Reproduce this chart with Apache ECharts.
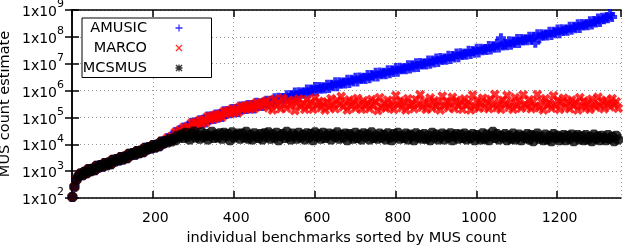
<!DOCTYPE html>
<html><head><meta charset="utf-8">
<script src="https://cdn.jsdelivr.net/npm/echarts@6/dist/echarts.min.js"></script>
<style>html,body{margin:0;padding:0;background:#fff}#c{width:623px;height:248px}</style>
</head><body><div id="c"></div>
<script>
// benchmark index (x) of every plotted sample
const ranks = [
1,6,11,16,21,26,31,36,41,46,51,56,61,66,71,76,81,86,91,96,
101,106,111,116,121,126,131,136,141,146,151,156,161,166,171,176,181,186,191,196,
201,206,211,216,221,226,231,236,241,246,251,256,261,266,271,276,281,286,291,296,
301,306,311,316,321,326,331,336,341,346,351,356,361,366,371,376,381,386,391,396,
401,406,411,416,421,426,431,436,441,446,451,456,461,466,471,476,481,486,491,496,
501,506,511,516,521,526,531,536,541,546,551,556,561,566,571,576,581,586,591,596,
601,606,611,616,621,626,631,636,641,646,651,656,661,666,671,676,681,686,691,696,
701,706,711,716,721,726,731,736,741,746,751,756,761,766,771,776,781,786,791,796,
801,806,811,816,821,826,831,836,841,846,851,856,861,866,871,876,881,886,891,896,
901,906,911,916,921,926,931,936,941,946,951,956,961,966,971,976,981,986,991,996,
1001,1006,1011,1016,1021,1026,1031,1036,1041,1046,1051,1056,1061,1066,1071,1076,1081,1086,1091,1096,
1101,1106,1111,1116,1121,1126,1131,1136,1141,1146,1151,1156,1161,1166,1171,1176,1181,1186,1191,1196,
1201,1206,1211,1216,1221,1226,1231,1236,1241,1246,1251,1256,1261,1266,1271,1276,1281,1286,1291,1296,
1301,1306,1311,1316,1321,1326,1331,1336,1341,1346,1351];

// ranks 1..231: all three tools give the same (exact) count
const exactAll = [110,260,480,650,820,700,950,830,
1200,990,1240,1070,1590,1370,1690,1470,2000,1640,2090,1810,2660,2280,2830,2480,
3380,2730,3480,3020,4480,3870,4700,4110,5640,4620,5900,5010,7450,6420,7960,6980,
9350,7660,9800,8500,12600,10600,13200];

// ranks 236..476: MARCO and AMUSIC agree
const exactMarcoAmusic = [1.7e4,1.35e4,1.95e4,1.6e4,2.85e4,2.35e4,3.3e4,2.8e4,
4.2e4,3.2e4,4.6e4,3.7e4,6.3e4,4.9e4,6.6e4,5.4e4,7.9e4,6.0e4,8.3e4,6.5e4,
1.09e5,8.4e4,1.1e5,8.8e4,1.28e5,9.8e4,1.32e5,1.03e5,1.69e5,1.33e5,1.74e5,1.43e5,
2.04e5,1.51e5,2.05e5,1.56e5,2.55e5,1.97e5,2.58e5,2.06e5,2.88e5,2.13e5,2.89e5,2.15e5,
3.5e5,2.65e5,3.4e5,2.66e5,3.7e5];

// MCSMUS, ranks 236..1351
const mcsmusEst = [11600,15900,12800,16300,14100,21000,18000,
2.3e4,1.7e4,2.7e4,1.9e4,1.5e4,2.4e4,3.0e4,1.8e4,2.2e4,1.6e4,
2.8e4,1.9e4,2.4e4,1.5e4,2.1e4,2.9e4,1.7e4,2.3e4,1.8e4,2.6e4,
1.6e4,2.7e4,2.0e4,2.4e4,1.4e4,2.8e4,1.8e4,2.2e4,2.5e4,1.6e4,
2.5e4,1.8e4,2.9e4,1.6e4,2.2e4,1.5e4,2.6e4,2.0e4,1.7e4,2.4e4,
1.5e4,2.6e4,1.9e4,2.8e4,1.6e4,2.3e4,1.8e4,2.7e4,1.4e4,2.1e4,
2.4e4,1.7e4,2.9e4,1.9e4,1.5e4,2.5e4,2.1e4,1.6e4,2.7e4,1.8e4,
2.2e4,1.5e4,2.6e4,1.8e4,2.4e4,1.4e4,2.8e4,1.9e4,2.3e4,1.6e4,
2.7e4,1.7e4,2.1e4,2.5e4,1.5e4,2.3e4,1.9e4,2.8e4,1.6e4,2.2e4,
1.8e4,2.5e4,1.4e4,2.4e4,2.0e4,1.6e4,2.7e4,1.7e4,2.2e4,1.5e4,
2.6e4,1.9e4,2.3e4,1.5e4,2.8e4,1.7e4,2.1e4,1.6e4,2.5e4,1.8e4,
2.2e4,1.5e4,2.6e4,1.8e4,1.4e4,2.4e4,1.9e4,2.7e4,1.6e4,2.1e4,
1.7e4,2.5e4,1.5e4,2.3e4,2.0e4,1.4e4,2.6e4,1.8e4,2.2e4,1.6e4,
2.4e4,1.6e4,2.1e4,1.4e4,2.7e4,1.8e4,2.3e4,1.5e4,1.9e4,2.5e4,
1.5e4,2.2e4,1.8e4,2.6e4,1.4e4,2.0e4,2.4e4,1.6e4,2.3e4,1.7e4,
2.5e4,1.5e4,2.1e4,1.7e4,2.4e4,1.4e4,2.2e4,1.9e4,1.5e4,2.6e4,
1.6e4,2.3e4,1.4e4,2.0e4,2.9e4,1.7e4,2.4e4,1.5e4,2.1e4,1.8e4,
2.4e4,1.4e4,2.1e4,1.6e4,2.5e4,1.5e4,1.9e4,2.3e4,1.4e4,2.0e4,
1.7e4,2.4e4,1.5e4,2.2e4,1.3e4,2.0e4,2.5e4,1.6e4,1.9e4,1.4e4,
2.3e4,1.5e4,2.0e4,1.3e4,2.4e4,1.7e4,2.1e4,1.4e4,1.8e4,2.2e4,
1.4e4,2.1e4,1.6e4,2.3e4,1.3e4,1.9e4,2.2e4,1.5e4,2.0e4,1.4e4,
2.2e4,1.5e4,1.9e4,1.3e4,2.3e4,1.6e4,2.0e4,1.4e4,2.1e4,1.7e4,
1.4e4,2.2e4,1.6e4,1.9e4,1.3e4,2.1e4,1.5e4];

// MARCO, ranks 481..1351
const marcoEst = [
4.1e5,2.3e5,3.3e5,1.9e5,4.8e5,2.7e5,3.7e5,2.1e5,5.2e5,3.0e5,
2.2e5,4.4e5,2.9e5,3.9e5,1.8e5,3.5e5,4.9e5,2.5e5,3.2e5,2.0e5,
4.6e5,2.6e5,3.6e5,2.0e5,5.3e5,2.8e5,4.0e5,2.3e5,3.4e5,1.9e5,
3.8e5,2.4e5,5.0e5,2.9e5,2.1e5,4.3e5,3.1e5,6.0e5,2.5e5,3.6e5,
1.9e5,4.5e5,2.7e5,3.9e5,2.2e5,5.1e5,3.0e5,2.0e5,4.2e5,2.6e5,
3.5e5,2.1e5,4.7e5,2.8e5,3.8e5,1.8e5,5.4e5,2.4e5,3.3e5,2.2e5,
4.4e5,2.5e5,3.6e5,2.0e5,6.5e5,3.0e5,4.1e5,2.3e5,3.7e5,1.9e5,
5.0e5,2.7e5,3.4e5,2.1e5,4.6e5,2.9e5,7.0e5,2.4e5,3.9e5,2.0e5,
3.2e5,5.3e5,2.2e5,4.2e5,2.6e5,3.6e5,1.9e5,6.2e5,2.8e5,4.0e5,
2.3e5,3.5e5,5.6e5,2.1e5,4.3e5,2.7e5,3.8e5,2.0e5,4.9e5,2.9e5,
3.6e5,1.9e5,6.8e5,2.5e5,4.1e5,2.2e5,3.3e5,5.2e5,2.4e5,3.9e5,
2.1e5,4.7e5,2.8e5,7.2e5,2.3e5,3.7e5,2.0e5,4.4e5,3.0e5,6.6e5,
2.4e5,3.5e5,2.0e5,5.5e5,2.7e5,4.2e5,2.2e5,6.9e5,3.1e5,2.5e5,
4.6e5,2.1e5,3.8e5,2.6e5,7.1e5,2.3e5,4.0e5,1.9e5,5.0e5,2.9e5,
3.4e5,2.2e5,6.4e5,2.7e5,4.3e5,2.0e5,3.6e5,5.2e5,2.4e5,3.9e5,
2.1e5,4.5e5,2.8e5,3.5e5,1.9e5,5.4e5,2.6e5,4.1e5,2.3e5,3.7e5,
2.0e5,4.8e5,3.0e5,2.4e5,5.6e5,2.7e5,3.9e5,2.1e5,4.4e5,3.2e5,
2.5e5,5.0e5,2.9e5,3.8e5,2.2e5];

// AMUSIC, ranks 481..1351 (no estimate shown for the last ranks)
const amusicEst = [
4.17e5,3.16e5,4.17e5,3.63e5,5.13e5,3.80e5,5.37e5,4.68e5,5.25e5,4.79e5,
6.76e5,5.13e5,6.76e5,6.03e5,8.51e5,6.17e5,8.71e5,7.59e5,8.51e5,7.76e5,
1.10e6,8.32e5,1.10e6,9.55e5,1.35e6,9.77e5,1.35e6,1.17e6,1.32e6,1.20e6,
1.66e6,1.26e6,1.66e6,1.45e6,2.04e6,1.45e6,2.04e6,1.78e6,2.0e6,1.82e6,
2.51e6,1.91e6,2.51e6,2.19e6,3.02e6,2.19e6,3.09e6,2.69e6,3.02e6,2.69e6,
3.80e6,2.88e6,3.80e6,3.31e6,4.57e6,3.31e6,4.68e6,4.07e6,4.57e6,4.07e6,
5.75e6,4.37e6,5.75e6,4.90e6,6.92e6,5.01e6,7.08e6,6.17e6,6.76e6,6.17e6,
8.71e6,6.61e6,8.71e6,7.41e6,1.05e7,7.59e6,1.07e7,9.33e6,1.02e7,9.33e6,
1.32e7,1.0e7,1.32e7,1.12e7,1.58e7,1.15e7,1.62e7,1.38e7,1.55e7,1.41e7,
2.0e7,1.51e7,1.95e7,1.70e7,2.40e7,1.74e7,2.45e7,2.09e7,2.34e7,2.14e7,
3.02e7,2.29e7,2.95e7,2.57e7,3.63e7,2.63e7,3.63e7,3.16e7,3.55e7,3.24e7,
4.57e7,3.39e7,4.47e7,3.89e7,5.50e7,3.98e7,8.9e7,4.79e7,5.37e7,4.90e7,
6.92e7,5.13e7,6.76e7,5.89e7,8.32e7,5.89e7,8.32e7,7.24e7,8.13e7,7.41e7,
1.02e8,7.76e7,1.02e8,6.03e7,1.26e8,8.91e7,1.26e8,1.10e8,1.23e8,1.12e8,
1.55e8,1.17e8,1.55e8,1.35e8,1.86e8,1.35e8,1.91e8,1.66e8,1.86e8,1.70e8,
2.40e8,1.82e8,2.40e8,2.09e8,2.95e8,2.14e8,3.02e8,2.63e8,2.95e8,2.69e8,
3.80e8,2.88e8,3.89e8,3.39e8,4.79e8,3.55e8,5.13e8,4.57e8,5.25e8,4.90e8,
7.08e8,5.50e8,null,null,null];

const seriesNames = ['AMUSIC', 'MARCO', 'MCSMUS'];
const xTickStep = 200;
const xMax = 1358;
const yMin = 1e2, yMax = 1e9;
const xTitle = 'individual benchmarks sorted by MUS count';
const yTitle = 'MUS count estimate';

const amusicVals = exactAll.concat(exactMarcoAmusic, amusicEst);
const marcoVals = exactAll.concat(exactMarcoAmusic, marcoEst);
const mcsmusVals = exactAll.concat(mcsmusEst);

function pairs(vals) {
  const out = [];
  vals.forEach((v, i) => { if (v != null) out.push([ranks[i], v]); });
  return out;
}

// thin glyphs for the key, bold glyphs for the dense point clouds
const PLUS = 'path://M4.1,0H5.9V4.1H10V5.9H5.9V10H4.1V5.9H0V4.1H4.1Z';
const CROSS = 'path://M0,1.3L1.3,0L5,3.7L8.7,0L10,1.3L6.3,5L10,8.7L8.7,10L5,6.3L1.3,10L0,8.7L3.7,5Z';
const STAR = PLUS + ' ' + CROSS.slice(7);
const PLUS_B = 'path://M3,0H7V3H10V7H7V10H3V7H0V3H3Z';
const CROSS_B = 'path://M0,2.6L2.6,0L5,2.4L7.4,0L10,2.6L7.6,5L10,7.4L7.4,10L5,7.6L2.6,10L0,7.4L2.4,5Z';
const STAR_B = PLUS_B + ' ' + CROSS_B.slice(7);

const FONT = 'DejaVu Sans';
const axisLine = { show: true, lineStyle: { color: '#000', width: 1.5 } };
const tick = { show: true, inside: true, length: 7, lineStyle: { color: '#000', width: 1.5 } };
const grid = { show: true, lineStyle: { color: '#9a9a9a', width: 1, type: [1, 3] } };

const chart = echarts.init(document.getElementById('c'), null, { renderer: 'canvas' });
chart.setOption({
  animation: false,
  backgroundColor: '#fff',
  grid: { left: 72, top: 10, right: 2, bottom: 50, containLabel: false, outerBoundsMode: 'none' },
  legend: {
    data: [
      { name: seriesNames[0], icon: PLUS },
      { name: seriesNames[1], icon: CROSS },
      { name: seriesNames[2], icon: STAR }
    ],
    left: 82, top: 18,
    orient: 'vertical', align: 'right',
    padding: [1.5, 29, 1, 0],
    itemGap: 3, itemWidth: 54, itemHeight: 7,
    backgroundColor: '#fff', borderColor: '#000', borderWidth: 1,
    selectedMode: false,
    formatter: n => '{n|' + n + '}',
    textStyle: {
      fontFamily: FONT, fontSize: 14.5, color: '#000', lineHeight: 17,
      rich: { n: { width: 65, align: 'right', fontFamily: FONT, fontSize: 14.5, color: '#000', lineHeight: 17 } }
    }
  },
  xAxis: [{
    type: 'value', min: 0, max: xMax, interval: xTickStep, position: 'bottom',
    axisLine: axisLine, axisTick: tick, splitLine: grid,
    axisLabel: {
      fontFamily: FONT, fontSize: 14, color: '#000', margin: 13, padding: [0, 0, 0, 5],
      showMaxLabel: false,
      formatter: v => (v > 0 && v % xTickStep === 0) ? String(v) : ''
    },
    name: xTitle, nameLocation: 'middle', nameGap: 33, nameMoveOverlap: false,
    nameTextStyle: { fontFamily: FONT, fontSize: 14.5, color: '#000' }
  }, {
    type: 'value', min: 0, max: xMax, interval: xTickStep, position: 'top',
    axisLine: axisLine, axisTick: tick, splitLine: { show: false }, axisLabel: { show: false }
  }],
  yAxis: [{
    type: 'log', logBase: 10, min: yMin, max: yMax, position: 'left',
    axisLine: axisLine, axisTick: tick, splitLine: grid, minorTick: { show: false },
    axisLabel: {
      margin: 8, showMinLabel: true, showMaxLabel: true,
      formatter: v => '{b|1x10}{s|' + Math.round(Math.log10(v)) + '}',
      rich: {
        b: { fontFamily: FONT, fontSize: 14, color: '#000', padding: [5, 0, 0, 0] },
        s: { fontFamily: FONT, fontSize: 11, color: '#000', padding: [0, 0, 11, 0] }
      }
    },
    name: yTitle, nameLocation: 'middle', nameGap: 59, nameRotate: 90, nameMoveOverlap: false,
    nameTextStyle: { fontFamily: FONT, fontSize: 14.5, color: '#000' }
  }, {
    type: 'log', logBase: 10, min: yMin, max: yMax, position: 'right',
    axisLine: axisLine, axisTick: tick, splitLine: { show: false }, axisLabel: { show: false }
  }],
  series: [
    { name: seriesNames[0], type: 'scatter', data: pairs(amusicVals), symbol: PLUS_B, symbolSize: 10,
      symbolKeepAspect: true, itemStyle: { color: '#0000ff' }, emphasis: { disabled: true } },
    { name: seriesNames[1], type: 'scatter', data: pairs(marcoVals), symbol: CROSS_B, symbolSize: 10,
      symbolKeepAspect: true, itemStyle: { color: '#ff0000' }, emphasis: { disabled: true } },
    { name: seriesNames[2], type: 'scatter', data: pairs(mcsmusVals), symbol: STAR_B, symbolSize: 10,
      symbolKeepAspect: true, itemStyle: { color: '#000000' }, emphasis: { disabled: true } }
  ]
});
</script>
</body></html>
